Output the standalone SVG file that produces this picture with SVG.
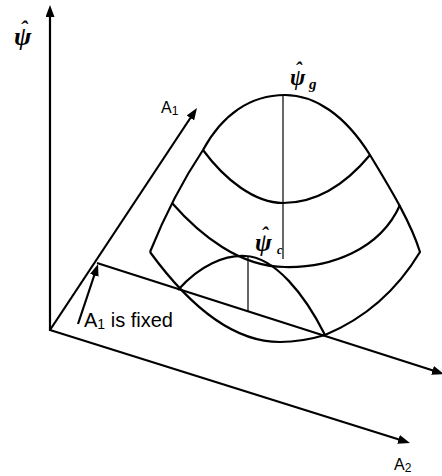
<svg xmlns="http://www.w3.org/2000/svg" width="442" height="476" viewBox="0 0 442 476">
<style>
.ax{fill:none;stroke:#000;stroke-width:2.2;marker-end:url(#ah)}
.cv{fill:none;stroke:#000;stroke-width:2.2;stroke-linejoin:round}
.thin{fill:none;stroke:#000;stroke-width:1.2}
.lab{font-family:"Liberation Sans",Arial,sans-serif;fill:#000}
.gr{font-family:"Liberation Serif","Times New Roman",serif;font-style:italic;font-weight:bold;fill:#000}
</style>
<defs>
<marker id="ah" markerUnits="userSpaceOnUse" markerWidth="13" markerHeight="10" refX="3" refY="4.5" orient="auto">
<path d="M0,0 L12,4.5 L0,9 z" fill="#000"/>
</marker>
</defs>
<rect width="442" height="476" fill="#fff"/>
<g id="connectors">
<path class="ax" d="M50,331 L50,14"/>
<path class="ax" d="M50,330 L192,115.5"/>
<path class="ax" d="M50,330 L401.4,440.3"/>
<path class="ax" d="M97,263 L435.4,371.3"/>
<path class="ax" d="M78,324 L95.2,272.5"/>
</g>
<g id="surface">
<path class="cv" d="M150,252 Q173,195 203,150 C222,115 250,95 285,95 C315,95 345,115 370,155 C388,185 410,220 420,252 Q385,310 325,335"/>
<path class="cv" d="M150,252 C185,300 230,342 280,342 C300,342 315,338 325,335"/>
<path class="cv" d="M203,150 C225,180 255,203 283,203 C315,203 345,185 370,155"/>
<path class="cv" d="M172,203 C200,235 240,267 285,267 C330,268 380,250 400,205"/>
<path class="cv" d="M178,290 C200,265 225,255 245,256 C275,257 305,295 325,335"/>
<path class="thin" d="M283,95 L283,259"/>
<path class="thin" d="M248,257 L248,311"/>
</g>
<g id="psi-axis-label">
<text class="gr" x="14" y="45" font-size="26">ψ<tspan x="20" y="36" font-size="22">ˆ</tspan></text>
</g>
<g id="psi-g">
<text class="gr" x="290" y="85" font-size="23">ψ<tspan x="295" y="77" font-size="20">ˆ</tspan><tspan x="309" y="89" font-size="15">g</tspan></text>
</g>
<g id="psi-c">
<text class="gr" x="255" y="251" font-size="25">ψ<tspan x="261" y="242" font-size="21">ˆ</tspan><tspan x="277" y="254" font-size="12">c</tspan></text>
</g>
<g id="label-A1">
<text class="lab" x="161" y="113" font-size="16">A<tspan font-size="12" dy="2">1</tspan></text>
</g>
<g id="label-A2">
<text class="lab" x="394" y="470" font-size="16">A<tspan font-size="12" dy="2">2</tspan></text>
</g>
<g id="label-fixed">
<text class="lab" x="84" y="327" font-size="20">A<tspan font-size="14" dy="2">1</tspan><tspan dy="-2"> is fixed</tspan></text>
</g>
</svg>
